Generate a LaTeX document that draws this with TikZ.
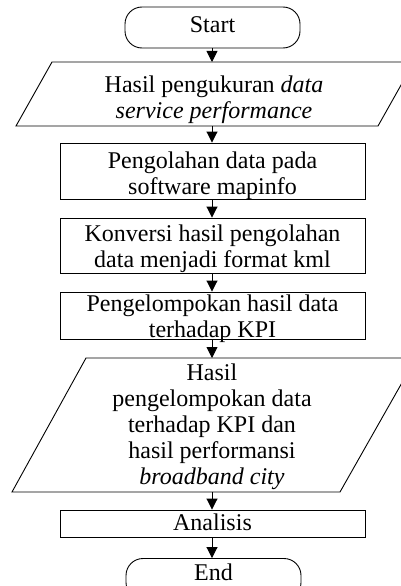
\documentclass[tikz,border=0pt]{standalone}
\usepackage{fontspec}
\setmainfont{Liberation Serif}
\usetikzlibrary{arrows.meta}
\newcommand{\ctext}[2][9.5pt]{\smash{\raisebox{-#1}{\begin{tabular}{@{}c@{}}#2\end{tabular}}}}
\tikzset{
  every picture/.style={line width=0.9pt},
  txt/.style={font=\fontsize{24}{26}\selectfont, inner sep=0pt},
  box/.style={txt, draw, minimum width=305pt},
  term/.style={txt, draw, minimum width=175pt, minimum height=41pt, rounded corners=17pt},
  flow/.style={-{Triangle[width=11pt,length=11pt]}, line width=0.9pt}
}
\begin{document}
\begin{tikzpicture}[x=1pt,y=-1pt]
\useasboundingbox (0,0) rectangle (401,586);
\clip (0,0) rectangle (401,586);
\node[term] (start) at (212.5,27.5) {\ctext[6.5pt]{Start}};
% parallelogram 1
\draw (52,62) -- (414,62) -- (378,126) -- (16,126) -- cycle;
\node[txt] (p1) at (214,97) {\ctext{Hasil pengukuran \textit{data}\\ \textit{service performance}}};
\coordinate (p1t) at (212,62);
\coordinate (p1b) at (212,126);
\node[box, minimum height=56pt] (b1) at (212.5,171) {\ctext[11.5pt]{Pengolahan data pada\\ software mapinfo}};
\node[box, minimum height=55pt] (b2) at (212.5,245.5) {\ctext[10.5pt]{Konversi hasil pengolahan\\ data menjadi format kml}};
\node[box, minimum height=47pt] (b3) at (212.5,315.5) {\ctext[10pt]{Pengelompokan hasil data\\ terhadap KPI}};
% parallelogram 2
\draw (86,358) -- (416,358) -- (340,492) -- (12,492) -- cycle;
\node[txt] (p2) at (212,424) {\ctext{Hasil\\ pengelompokan data\\ terhadap KPI dan\\ hasil performansi\\ \textit{broadband city}}};
\coordinate (p2t) at (212,358);
\coordinate (p2b) at (212,492);
\node[box, minimum height=27pt] (b4) at (212.5,523.5) {\ctext[8pt]{Analisis}};
\node[term] (end) at (213.5,579) {\ctext[3pt]{End}};
\draw[flow] (start.south -| p1t) -- (p1t);
\draw[flow] (p1b) -- (b1.north -| p1b);
\draw[flow] (b1.south -| p1b) -- (b2.north -| p1b);
\draw[flow] (b2.south -| p1b) -- (b3.north -| p1b);
\draw[flow] (b3.south -| p2t) -- (p2t);
\draw[flow] (p2b) -- (b4.north -| p2b);
\draw[flow] (b4.south -| p2b) -- (end.north -| p2b);
\end{tikzpicture}
\end{document}
